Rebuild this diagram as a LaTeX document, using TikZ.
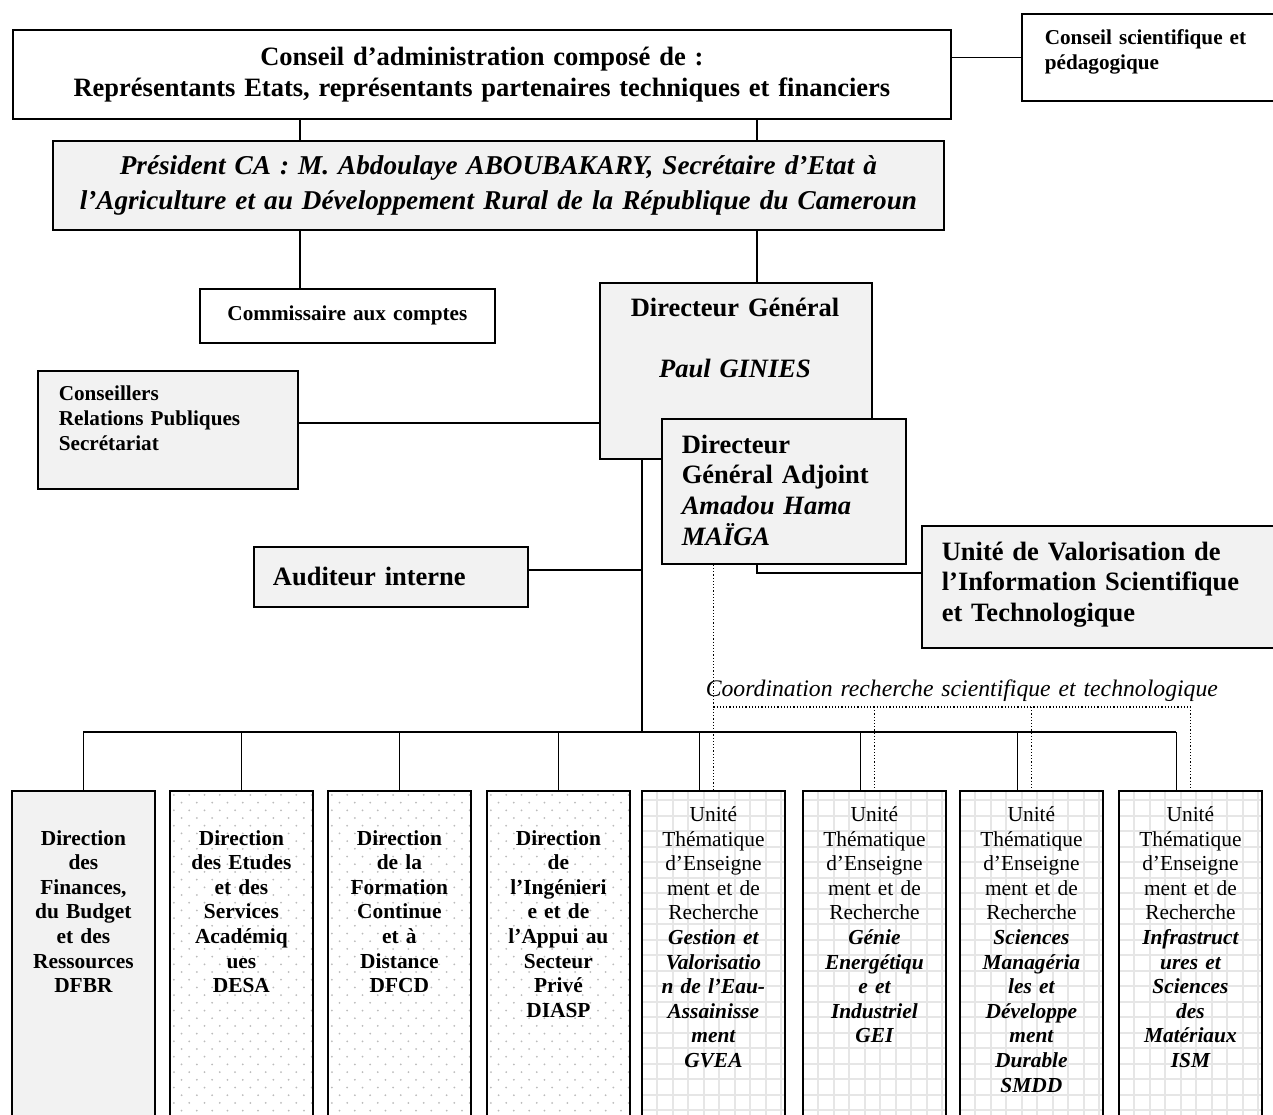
\documentclass[tikz,border=0pt]{standalone}
\usepackage{fontspec}
\setmainfont{Liberation Serif}

\definecolor{boxgray}{HTML}{F2F2F2}
\definecolor{gridgray}{HTML}{E6E6E6}
\definecolor{dotgray}{HTML}{BBBBBB}

\newcommand{\txtbig}{\fontsize{26.5}{30.7}\selectfont}
\newcommand{\txtpres}{\fontsize{27.2}{35}\selectfont}
\newcommand{\txtmid}{\fontsize{21.2}{25}\selectfont}
\newcommand{\txtcol}{\fontsize{21.4}{24.6}\selectfont}
\newcommand{\txtcoord}{\fontsize{23.7}{28}\selectfont}

\begin{document}
\begin{tikzpicture}[x=1pt, y=-1pt, line width=1.6pt,
    frame/.style={draw, line width=1.8pt, inner sep=0pt, anchor=north west},
    grayframe/.style={frame, fill=boxgray},
    lbl/.style={inner sep=0pt, anchor=base west, align=left},
    clbl/.style={inner sep=0pt, anchor=base, align=center},
    dotline/.style={dotted, line width=1.2pt},
    dotfill/.style={path picture={
        \foreach \j [evaluate=\j as \o using {mod(\j,2)*7.65}] in {0,...,44}
            \foreach \i in {0,...,9}
                \fill[dotgray] ([shift={(\i*15.3+\o+4,\j*7.7+4)}]path picture bounding box.north west) circle (1);
    }},
    gridfill/.style={path picture={
        \foreach \i in {1,...,9}
            \draw[gridgray, line width=2pt] ([xshift=\i*15.5]path picture bounding box.north west) -- ([xshift=\i*15.5]path picture bounding box.south west);
        \foreach \j in {1,...,22}
            \draw[gridgray, line width=2pt] ([yshift=-\j*15.5+6]path picture bounding box.north west) -- ([yshift=-\j*15.5+6]path picture bounding box.north east);
    }}]

    \useasboundingbox (0,0) rectangle (1273,1115);
    \clip (0,0) rectangle (1273,1115);

    % conseil, president
    \node[frame, minimum width=938, minimum height=89, text width=938, align=center, font=\txtbig\bfseries] (ca) at (12,29) {Conseil d’administration composé de :\\Représentants Etats, représentants partenaires techniques et financiers};
    \node[frame, minimum width=270, minimum height=87] (cs) at (1021,13) {};
    \node[lbl, text width=225, font=\txtmid\bfseries] (cst) at ([shift={(23,32)}]cs.north west) {Conseil scientifique et\\pédagogique};
    \node[grayframe, minimum width=891, minimum height=89, text width=891, align=center, font=\txtpres\bfseries\itshape] (pres) at (52,140) {Président CA : M. Abdoulaye ABOUBAKARY, Secrétaire d’Etat à\\l’Agriculture et au Développement Rural de la République du Cameroun};

    % direction
    \node[frame, minimum width=295, minimum height=54, text width=295, align=center, font=\txtmid\bfseries] (comm) at (199,288) {Commissaire aux comptes};
    \node[grayframe, minimum width=272, minimum height=176] (dg) at (599,282) {};
    \node[clbl, text width=260, font=\txtbig\bfseries] (dgt) at ([shift={(136,34)}]dg.north west) {Directeur Général\\[31pt]\itshape Paul GINIES};
    \node[grayframe, minimum width=244, minimum height=145] (dga) at (661,418) {};
    \node[lbl, text width=225, font=\txtbig\bfseries] (dgat) at ([shift={(20,35)}]dga.north west) {Directeur\\Général Adjoint\\\itshape Amadou Hama\\MAÏGA};
    \node[grayframe, minimum width=260, minimum height=118] (cons) at (37,370) {};
    \node[lbl, text width=230, font=\txtmid\bfseries] (const) at ([shift={(21,30)}]cons.north west) {Conseillers\\Relations Publiques\\Secrétariat};
    \node[grayframe, minimum width=274, minimum height=60, text width=236, inner xsep=19pt, align=left, font=\txtbig\bfseries] (aud) at (253,546) {Auditeur interne};
    \node[grayframe, minimum width=370, minimum height=122] (uvi) at (921,525) {};
    \node[lbl, text width=340, font=\txtbig\bfseries] (uvit) at ([shift={(20,35)}]uvi.north west) {Unité de Valorisation de\\l’Information Scientifique\\et Technologique};
    \node[lbl, text width=530, font=\txtcoord\itshape] (coord) at (705,696) {Coordination recherche scientifique et technologique};

    % directions et unites
    \node[grayframe, minimum width=143, minimum height=340] (d1) at (11,790) {};
    \node[frame, fill=white, dotfill, minimum width=143, minimum height=340] (d2) at (169,790) {};
    \node[frame, fill=white, dotfill, minimum width=143, minimum height=340] (d3) at (327,790) {};
    \node[frame, fill=white, dotfill, minimum width=143, minimum height=340] (d4) at (486,790) {};
    \node[frame, fill=white, gridfill, minimum width=143, minimum height=340] (d5) at (641,790) {};
    \node[frame, fill=white, gridfill, minimum width=143, minimum height=340] (d6) at (802,790) {};
    \node[frame, fill=white, gridfill, minimum width=143, minimum height=340] (d7) at (959,790) {};
    \node[frame, fill=white, gridfill, minimum width=143, minimum height=340] (d8) at (1118,790) {};

    \node[clbl, text width=140, font=\txtcol\bfseries] (d1t) at ([shift={(0,55)}]d1.north) {Direction\\des\\Finances,\\du Budget\\et des\\Ressources\\DFBR};
    \node[clbl, text width=140, font=\txtcol\bfseries] (d2t) at ([shift={(0,55)}]d2.north) {Direction\\des Etudes\\et des\\Services\\Académiq\\ues\\DESA};
    \node[clbl, text width=140, font=\txtcol\bfseries] (d3t) at ([shift={(0,55)}]d3.north) {Direction\\de la\\Formation\\Continue\\et à\\Distance\\DFCD};
    \node[clbl, text width=140, font=\txtcol\bfseries] (d4t) at ([shift={(0,55)}]d4.north) {Direction\\de\\l’Ingénieri\\e et de\\l’Appui au\\Secteur\\Privé\\DIASP};
    \node[clbl, text width=140, font=\txtcol] (d5t) at ([shift={(0,31.5)}]d5.north) {Unité\\Thématique\\d’Enseigne\\ment et de\\Recherche\\\bfseries\itshape Gestion et\\Valorisatio\\n de l’Eau-\\Assainisse\\ment\\GVEA};
    \node[clbl, text width=140, font=\txtcol] (d6t) at ([shift={(0,31.5)}]d6.north) {Unité\\Thématique\\d’Enseigne\\ment et de\\Recherche\\\bfseries\itshape Génie\\Energétiqu\\e et\\Industriel\\GEI};
    \node[clbl, text width=140, font=\txtcol] (d7t) at ([shift={(0,31.5)}]d7.north) {Unité\\Thématique\\d’Enseigne\\ment et de\\Recherche\\\bfseries\itshape Sciences\\Managéria\\les et\\Développe\\ment\\Durable\\SMDD};
    \node[clbl, text width=140, font=\txtcol] (d8t) at ([shift={(0,31.5)}]d8.north) {Unité\\Thématique\\d’Enseigne\\ment et de\\Recherche\\\bfseries\itshape Infrastruct\\ures et\\Sciences\\des\\Matériaux\\ISM};

    % liens
    \coordinate (l1) at (300,0);
    \coordinate (l2) at (757,0);
    \coordinate (tr) at (642,0);
    \coordinate (bus) at (0,732);
    \coordinate (dl) at (0,707);
    \draw (ca.east |- cs.west) -- (cs.west);
    \draw (ca.south -| l1) -- (pres.north -| l1);
    \draw (ca.south -| l2) -- (pres.north -| l2);
    \draw (pres.south -| l1) -- (comm.north -| l1);
    \draw (pres.south -| l2) -- (dg.north -| l2);
    \draw ([yshift=7pt]cons.east) -- ([yshift=7pt]cons.east -| dg.west);
    \draw (dg.south -| tr) -- (tr |- bus);
    \draw ([yshift=7pt]aud.east) -- ([yshift=7pt]aud.east -| tr);
    \draw (dga.south -| l2) |- ([yshift=14pt]uvi.west);
    \path ([xshift=-14pt]d8.north) ++(0,-58) coordinate (busend);
    \draw (d1.north |- bus) -- (busend);
    \foreach \n in {1,...,4}
        \draw (d\n.north) -- (d\n.north |- bus);
    \foreach \n in {5,...,8}
        \draw ([xshift=-14pt]d\n.north) -- ++(0,-58);
    \draw[dotline] (dga.south -| d5.north) -- (d5.north);
    \draw[dotline] (d5.north |- dl) -- (d8.north |- dl);
    \foreach \n in {6,7,8}
        \draw[dotline] (d\n.north |- dl) -- (d\n.north);
\end{tikzpicture}
\end{document}
